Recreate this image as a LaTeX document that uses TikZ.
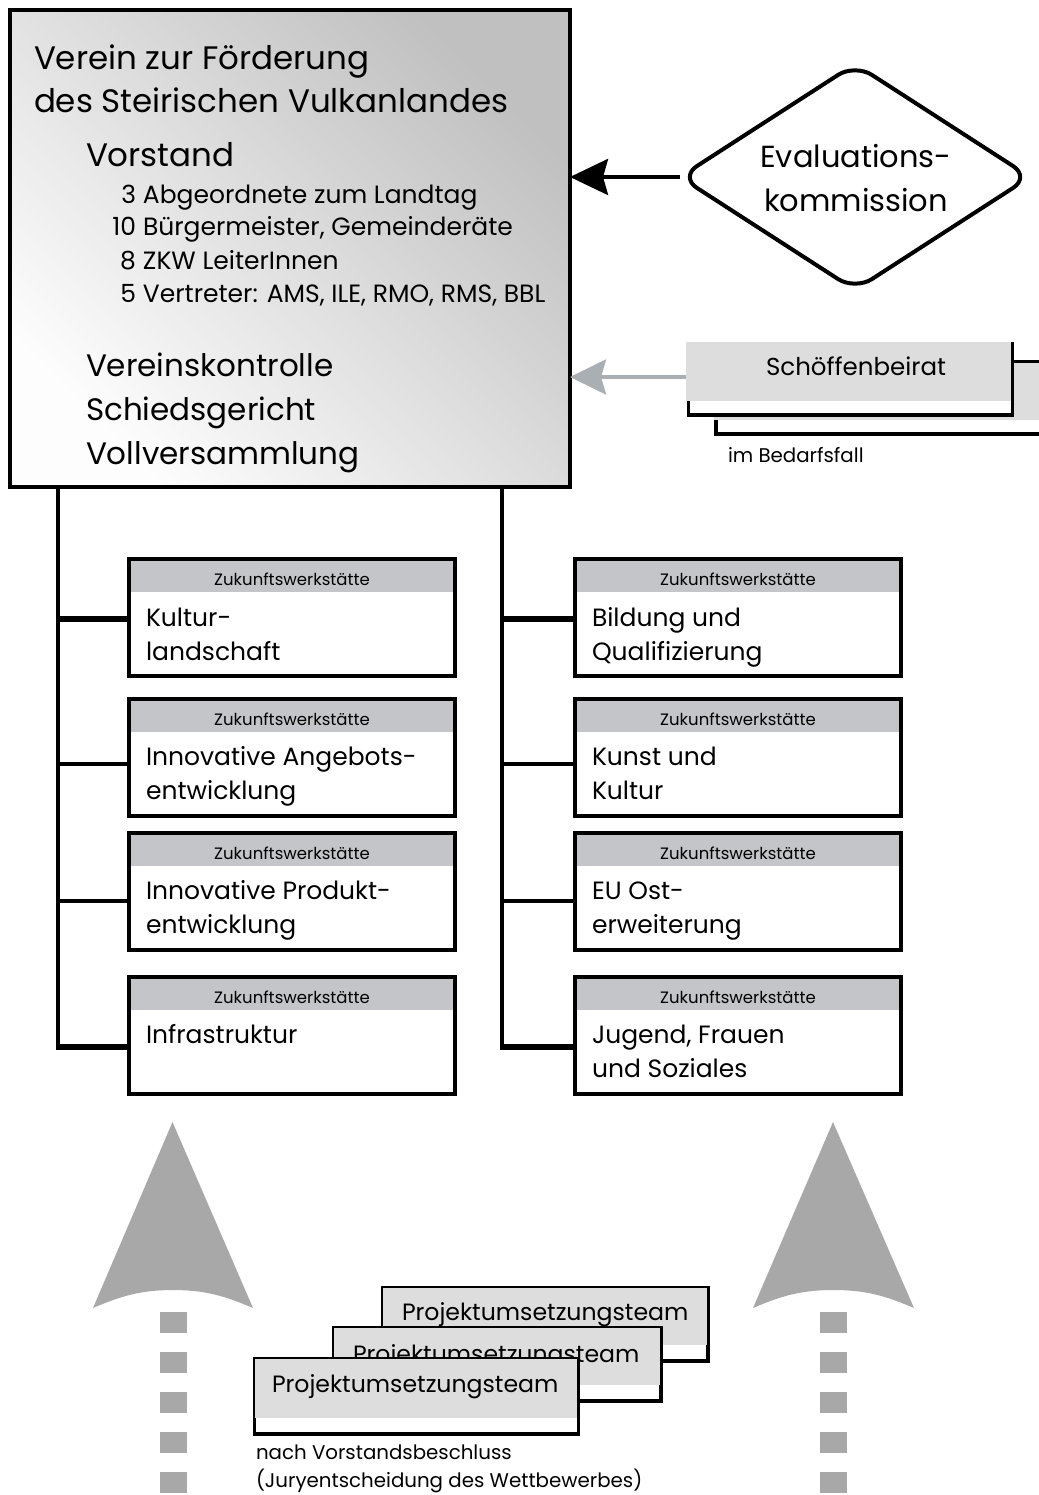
\documentclass[tikz,border=0pt]{standalone}
\usepackage{fontspec}
\setmainfont{Poppins}
\usetikzlibrary{shapes.geometric,arrows.meta,calc}
\definecolor{hdr}{RGB}{196,197,201}
\definecolor{boxgray}{RGB}{221,221,221}
\definecolor{bigarrow}{RGB}{168,168,168}
\definecolor{sarrow}{RGB}{170,175,180}
\definecolor{maintop}{RGB}{192,192,192}
\definecolor{mainbot}{RGB}{253,253,253}
\tikzset{
  txt/.style={anchor=base west, inner sep=0pt, outer sep=0pt},
  tbig/.style={txt, font=\fontsize{32.5}{38}\selectfont},
  tlist/.style={txt, font=\fontsize{25}{30}\selectfont},
  tbody/.style={txt, font=\fontsize{25}{30}\selectfont},
  thead/.style={anchor=base, inner sep=0pt, outer sep=0pt, font=\fontsize{16.5}{20}\selectfont},
  tsmall/.style={txt, font=\fontsize{19.8}{24}\selectfont},
  tteam/.style={txt, font=\fontsize{23.6}{28}\selectfont},
  wbox/.style={draw=black, line width=3.5pt, fill=white, minimum width=326pt, minimum height=117pt,
    anchor=north west, inner sep=0pt, outer sep=0pt},
  whead/.style={fill=hdr, minimum width=322.5pt, minimum height=31pt, anchor=north,
    inner sep=0pt, outer sep=0pt},
  vline/.style={line width=3.5pt, line cap=rect},
  hthick/.style={line width=6pt},
  hthin/.style={line width=3.5pt},
  frame/.style={draw=black, line width=3.5pt, fill=white, anchor=north west, inner sep=0pt, outer sep=0pt},
  grayfill/.style={fill=boxgray, anchor=north west, inner sep=0pt, outer sep=0pt},
  dots/.style={draw=bigarrow, line width=27pt, dash pattern=on 21pt off 19pt},
}
\newcommand{\numitem}[2]{\makebox[30pt][r]{#1}\hspace{7pt}#2}
\begin{document}
\begin{tikzpicture}[x=1pt,y=-1pt]
\useasboundingbox (0,0) rectangle (1038,1495);

% ---------- main box ----------
\node[draw=black, line width=4pt, minimum width=560pt, minimum height=477pt, anchor=north west,
  inner sep=0pt, outer sep=0pt, top color=maintop, bottom color=mainbot, shading angle=-45] (main) at (10,10) {};
\node[tbig] (t1) at (34,70) {Verein zur Förderung};
\node[tbig] (t2) at (34,113) {des Steirischen Vulkanlandes};
\node[tbig] (t3) at (86,167) {Vorstand};
\node[tlist] (l1) at (106,204) {\numitem{3}{Abgeordnete zum Landtag}};
\node[tlist] (l2) at (106,236) {\numitem{10}{Bürgermeister, Gemeinderäte}};
\node[tlist] (l3) at (106,270) {\numitem{8}{ZKW LeiterInnen}};
\node[tlist] (l4) at (106,302) {\numitem{5}{Vertreter: AMS, ILE, RMO, RMS, BBL}};
\node[tbig, font=\fontsize{31}{38}\selectfont] (t4) at (86,376) {Vereinskontrolle};
\node[tbig, font=\fontsize{31}{38}\selectfont] (t5) at (86,420) {Schiedsgericht};
\node[tbig, font=\fontsize{31}{38}\selectfont] (t6) at (86,464) {Vollversammlung};

% ---------- evaluation diamond ----------
\draw[line width=4pt, -{Stealth[length=38pt,width=36pt,inset=5pt]}] (680,177) coordinate (ew) -- (ew -| main.east);
\node[diamond, draw=black, line width=4pt, rounded corners=20pt, minimum width=350pt, minimum height=226pt,
  inner sep=0pt, outer sep=0pt, fill=white] (eval) at (855,177) {};
\node[anchor=base, inner sep=0pt, font=\fontsize{30.5}{36}\selectfont] (ev1) at (856,168) {Evaluations-};
\node[anchor=base, inner sep=0pt, font=\fontsize{30.5}{36}\selectfont] (ev2) at (856,212) {kommission};

% ---------- Schöffenbeirat ----------
\node[frame, minimum width=340pt, minimum height=72pt] (sbB) at (716,362) {};
\fill[boxgray] (714,363) rectangle (1045,420);
\node[frame, minimum width=324pt, minimum height=71pt] (sbF) at (688.5,344) {};
\node[grayfill, minimum width=325pt, minimum height=59pt] (sbG) at (686,342) {};
\node[anchor=base, inner sep=0pt, font=\fontsize{24.5}{30}\selectfont] (sbT) at (856,375) {Schöffenbeirat};
\draw[sarrow, line width=4pt, -{Stealth[length=36pt,width=35pt,inset=5pt]}] (sbG.west |- 0,377) coordinate (sw) -- (sw -| main.east);
\node[tsmall] (bed) at (728,462) {im Bedarfsfall};

% ---------- Zukunftswerkstätten ----------
\foreach \nm/\x/\y in {L1/129/559, L2/129/699, L3/129/833, L4/129/977,
                       R1/575/559, R2/575/699, R3/575/833, R4/575/977}{
  \node[wbox] (\nm) at (\x,\y) {};
  \node[whead] (\nm h) at ($(\nm.north)+(0,1.75)$) {};
  \node[thead] (\nm z) at ($(\nm.north)+(0,26)$) {Zukunftswerkstätte};
}
\node[tbody] (L1a) at ($(L1.north west)+(17,67)$) {Kultur-};
\node[tbody] (L1b) at ($(L1.north west)+(17,101)$) {landschaft};
\node[tbody] (L2a) at ($(L2.north west)+(17,66)$) {Innovative Angebots-};
\node[tbody] (L2b) at ($(L2.north west)+(17,100)$) {entwicklung};
\node[tbody] (L3a) at ($(L3.north west)+(17,66)$) {Innovative Produkt-};
\node[tbody] (L3b) at ($(L3.north west)+(17,100)$) {entwicklung};
\node[tbody] (L4a) at ($(L4.north west)+(17,66)$) {Infrastruktur};
\node[tbody] (R1a) at ($(R1.north west)+(17,67)$) {Bildung und};
\node[tbody] (R1b) at ($(R1.north west)+(17,101)$) {Qualifizierung};
\node[tbody] (R2a) at ($(R2.north west)+(17,66)$) {Kunst und};
\node[tbody] (R2b) at ($(R2.north west)+(17,100)$) {Kultur};
\node[tbody] (R3a) at ($(R3.north west)+(17,66)$) {EU Ost-};
\node[tbody] (R3b) at ($(R3.north west)+(17,100)$) {erweiterung};
\node[tbody] (R4a) at ($(R4.north west)+(17,66)$) {Jugend, Frauen};
\node[tbody] (R4b) at ($(R4.north west)+(17,100)$) {und Soziales};

% ---------- tree connectors ----------
\coordinate (lt) at (58,487);
\coordinate (rt) at (502,487);
\coordinate (L1c) at ($(L1.north west)+(0,60)$);
\coordinate (L2c) at ($(L2.north west)+(0,65)$);
\coordinate (L3c) at ($(L3.north west)+(0,68)$);
\coordinate (L4c) at ($(L4.north west)+(0,70)$);
\coordinate (R1c) at ($(R1.north west)+(0,60)$);
\coordinate (R2c) at ($(R2.north west)+(0,65)$);
\coordinate (R3c) at ($(R3.north west)+(0,68)$);
\coordinate (R4c) at ($(R4.north west)+(0,70)$);
\draw[vline] (lt) -- (lt |- L4c);
\draw[vline] (rt) -- (rt |- R4c);
\draw[hthick] ($(lt |- L1c)+(-1.75,0)$) -- (L1c);
\draw[hthin] (lt |- L2c) -- (L2c);
\draw[hthin] (lt |- L3c) -- (L3c);
\draw[hthick] ($(lt |- L4c)+(-1.75,0)$) -- (L4c);
\draw[hthick] ($(rt |- R1c)+(-1.75,0)$) -- (R1c);
\draw[hthin] (rt |- R2c) -- (R2c);
\draw[hthin] (rt |- R3c) -- (R3c);
\draw[hthick] ($(rt |- R4c)+(-1.75,0)$) -- (R4c);

% ---------- big gray arrows ----------
\fill[bigarrow] (93,1308) -- (172.5,1122) -- (253,1308)
  .. controls (225,1296) and (205,1290) .. (173,1290)
  .. controls (141,1290) and (121,1296) .. (93,1308) -- cycle;
\draw[dots] (173.5,1312) -- (173.5,1495);
\fill[bigarrow] (753,1308) -- (833,1122) -- (914,1308)
  .. controls (886,1296) and (866,1290) .. (833.5,1290)
  .. controls (801,1290) and (781,1296) .. (753,1308) -- cycle;
\draw[dots] (833.5,1312) -- (833.5,1495);

% ---------- Projektumsetzungsteams ----------
\node[frame, minimum width=325.5pt, minimum height=73pt] (p3) at (382.5,1288) {};
\node[grayfill, minimum width=324pt, minimum height=57pt] (p3g) at (382.5,1288) {};
\node[tteam] (p3t) at (402,1320) {Projektumsetzungsteam};
\node[frame, minimum width=327.5pt, minimum height=73pt] (p2) at (333.5,1328) {};
\node[grayfill, minimum width=326pt, minimum height=57pt] (p2g) at (333.5,1328) {};
\node[tteam] (p2t) at (353,1362) {Projektumsetzungsteam};
\node[frame, minimum width=324pt, minimum height=75pt] (p1) at (254.5,1359) {};
\node[grayfill, minimum width=322.5pt, minimum height=59pt] (p1g) at (254.5,1359) {};
\node[tteam] (p1t) at (272,1392) {Projektumsetzungsteam};
\node[tsmall] (n1) at (256,1459) {nach Vorstandsbeschluss};
\node[tsmall] (n2) at (256,1487) {(Juryentscheidung des Wettbewerbes)};
\end{tikzpicture}
\end{document}
